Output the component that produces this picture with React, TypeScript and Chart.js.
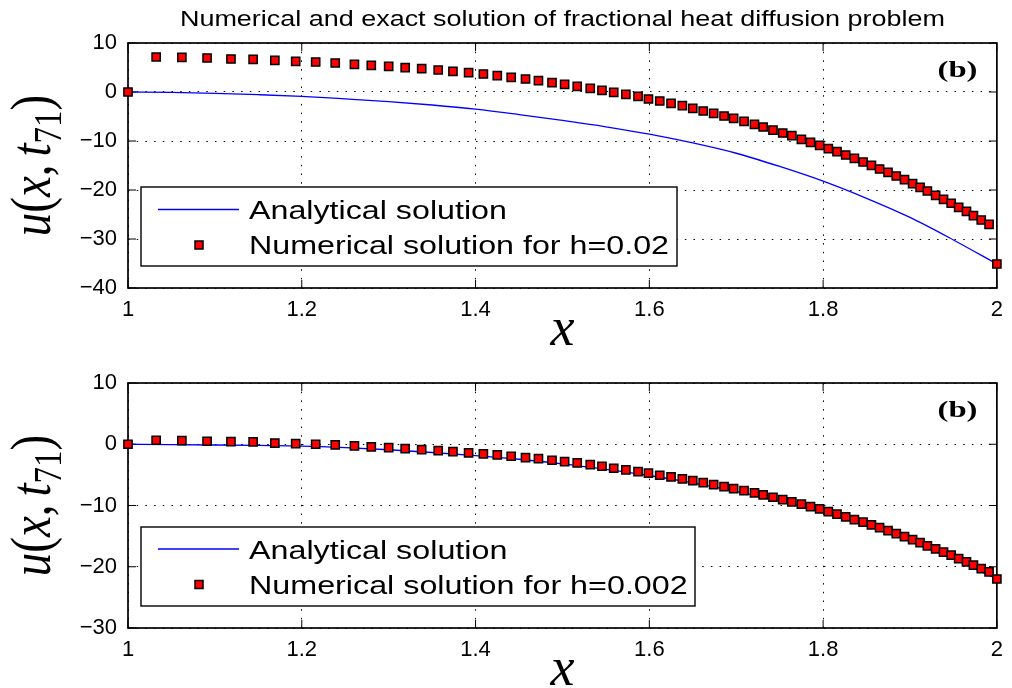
import React, { useEffect, useRef } from 'react';
import { Chart, registerables } from 'chart.js';

Chart.register(...registerables);

// ---------------- data ----------------
const xNodes = [
  1, 1.0324, 1.062, 1.091, 1.1185, 1.144, 1.169, 1.193, 1.216, 1.2385,
  1.2606, 1.28, 1.3, 1.319, 1.338, 1.357, 1.374, 1.392, 1.409, 1.425,
  1.441, 1.4575, 1.4724, 1.488, 1.5025, 1.517, 1.532, 1.5455, 1.559, 1.573,
  1.587, 1.599, 1.612, 1.625, 1.638, 1.65, 1.662, 1.674, 1.686, 1.697,
  1.709, 1.721, 1.731, 1.7423, 1.7535, 1.764, 1.775, 1.7855, 1.796, 1.806,
  1.816, 1.826, 1.836, 1.846, 1.8556, 1.865, 1.8747, 1.8842, 1.8937, 1.903,
  1.9116, 1.92, 1.9295, 1.9386, 1.9474, 1.956, 1.965, 1.973, 1.982, 1.991, 2,
];

const numericalTop = [
  0, 7.14, 7.08, 6.94, 6.73, 6.67, 6.47, 6.27, 6.12, 5.92,
  5.65, 5.45, 5.24, 4.98, 4.78, 4.49, 4.22, 3.96, 3.67, 3.35,
  3.0, 2.65, 2.33, 1.92, 1.57, 1.16, 0.76, 0.35, -0.06, -0.47,
  -0.88, -1.43, -1.84, -2.31, -2.78, -3.33, -3.88, -4.35, -4.9, -5.37,
  -5.98, -6.59, -7.14, -7.76, -8.37, -8.9, -9.65, -10.27, -10.88, -11.55,
  -12.16, -12.86, -13.53, -14.29, -14.96, -15.71, -16.39, -17.14, -17.88, -18.69,
  -19.45, -20.2, -21.08, -21.9, -22.7, -23.53, -24.35, -25.22, -26.12, -27.0, -35.1,
];

const numericalBottom = [
  0, 0.65, 0.6, 0.49, 0.43, 0.38, 0.2, 0.1, 0, -0.1,
  -0.28, -0.44, -0.55, -0.72, -0.88, -1.04, -1.2, -1.42, -1.58, -1.75,
  -1.96, -2.18, -2.35, -2.61, -2.84, -3.05, -3.33, -3.59, -3.92, -4.19,
  -4.47, -4.73, -5.06, -5.33, -5.66, -5.94, -6.26, -6.59, -6.92, -7.24,
  -7.57, -7.94, -8.27, -8.65, -9.04, -9.41, -9.79, -10.18, -10.55, -10.99,
  -11.42, -11.86, -12.3, -12.72, -13.16, -13.6, -14.09, -14.58, -15.07, -15.56,
  -16.05, -16.59, -17.08, -17.62, -18.1, -18.66, -19.2, -19.74, -20.29, -20.83, -22.0,
];

const xAnalytic = [
  1.0, 1.05, 1.1, 1.15, 1.2, 1.25, 1.3, 1.35, 1.4, 1.45, 1.5,
  1.55, 1.6, 1.65, 1.7, 1.75, 1.8, 1.85, 1.9, 1.95, 2.0,
];
const analyticTop = [
  0, -0.08, -0.27, -0.55, -0.9, -1.4, -1.95, -2.65, -3.5, -4.6, -5.8,
  -7.1, -8.6, -10.4, -12.5, -15.2, -18.2, -21.7, -25.6, -30.2, -35.1,
];
const analyticBottom = [
  0, -0.05, -0.12, -0.2, -0.3, -0.55, -0.9, -1.35, -1.85, -2.45, -3.2,
  -4.1, -5.1, -6.3, -7.7, -9.3, -11.1, -13.3, -15.8, -18.7, -22.0,
];

const xTicks = [1, 1.2, 1.4, 1.6, 1.8, 2];
const xTickLabels = ['1', '1.2', '1.4', '1.6', '1.8', '2'];
const yTicksTop = [-40, -30, -20, -10, 0, 10];
const yTickLabelsTop = ['\u221240', '\u221230', '\u221220', '\u221210', '0', '10'];
const yTicksBottom = [-30, -20, -10, 0, 10];
const yTickLabelsBottom = ['\u221230', '\u221220', '\u221210', '0', '10'];

const titleText = 'Numerical and exact solution of fractional heat diffusion problem';
const legendTop = ['Analytical solution', 'Numerical solution for h=0.02'];
const legendBottom = ['Analytical solution', 'Numerical solution for h=0.002'];
const panelTag = '(b)';

// ---------------- layout ----------------
type Spec = {
  canvasTop: number;
  height: number;
  area: { left: number; right: number; top: number; bottom: number };
  yMin: number;
  yMax: number;
  yTicks: number[];
  yLabels: string[];
  analytic: number[];
  numerical: number[];
  legend: string[];
  legendBox: { x: number; y: number; w: number; h: number };
  legendLineY: number;
  legendMarkerY: number;
  legendBase: [number, number];
  legendTextWidth: number;
  tagBase: number;
  xLabelBase: number;
  showTitle: boolean;
};

const specs: Spec[] = [
  {
    canvasTop: 0,
    height: 350,
    area: { left: 128, right: 1003, top: 43, bottom: 288 },
    yMin: -40,
    yMax: 10,
    yTicks: yTicksTop,
    yLabels: yTickLabelsTop,
    analytic: analyticTop,
    numerical: numericalTop,
    legend: legendTop,
    legendBox: { x: 141, y: 187, w: 536, h: 79 },
    legendLineY: 209.5,
    legendMarkerY: 245,
    legendBase: [219.3, 254.3],
    legendTextWidth: 420,
    tagBase: 77,
    xLabelBase: 345,
    showTitle: true,
  },
  {
    canvasTop: 344,
    height: 344,
    area: { left: 128, right: 1003, top: 383, bottom: 628 },
    yMin: -30,
    yMax: 10,
    yTicks: yTicksBottom,
    yLabels: yTickLabelsBottom,
    analytic: analyticBottom,
    numerical: numericalBottom,
    legend: legendBottom,
    legendBox: { x: 141, y: 527, w: 554, h: 79 },
    legendLineY: 549,
    legendMarkerY: 584.5,
    legendBase: [558.5, 593.5],
    legendTextWidth: 438.7,
    tagBase: 417,
    xLabelBase: 685,
    showTitle: false,
  },
];

const Y_AXIS_W = 60;
const X_AXIS_H = 40;
const TICK = 8;
const SX = 1.2;
const TICK_FONT = { family: '"Liberation Sans", Arial, sans-serif', size: 22 };

function fitText(
  ctx: CanvasRenderingContext2D,
  text: string,
  x: number,
  y: number,
  font: string,
  width: number | null,
  align: CanvasTextAlign,
) {
  ctx.save();
  ctx.font = font;
  const w = ctx.measureText(text).width;
  const sx = width ? width / w : 1;
  ctx.translate(x, y);
  ctx.scale(sx, 1);
  ctx.textAlign = align;
  ctx.textBaseline = 'alphabetic';
  ctx.fillText(text, 0, 0);
  ctx.restore();
}

function drawYLabel(ctx: CanvasRenderingContext2D, baseX: number, centerY: number) {
  const size = 47;
  const it = `italic ${size}px "Liberation Serif"`;
  const rm = `${size}px "Liberation Serif"`;
  const sub = `${Math.round(size * 0.7)}px "Liberation Serif"`;
  const parts: { t: string; f: string; dy: number; gap?: number }[] = [
    { t: 'u', f: it, dy: 0 },
    { t: '(', f: rm, dy: 0 },
    { t: 'x', f: it, dy: 0 },
    { t: ',', f: rm, dy: 0, gap: size * 0.17 },
    { t: 't', f: it, dy: 0 },
    { t: '71', f: sub, dy: size * 0.2 },
    { t: ')', f: rm, dy: 0 },
  ];
  ctx.save();
  let total = 0;
  const widths = parts.map((p) => {
    ctx.font = p.f;
    const w = ctx.measureText(p.t).width + (p.gap || 0);
    total += w;
    return w;
  });
  ctx.translate(baseX, centerY);
  ctx.scale(SX, 1);
  ctx.rotate(-Math.PI / 2);
  ctx.fillStyle = '#000';
  ctx.textAlign = 'left';
  ctx.textBaseline = 'alphabetic';
  let x = -total / 2;
  parts.forEach((p, i) => {
    ctx.font = p.f;
    ctx.fillText(p.t, x, p.dy);
    x += widths[i];
  });
  ctx.restore();
}

function makePlugin(spec: Spec) {
  const off = spec.canvasTop;
  return {
    id: 'panelDecor',
    beforeDatasetsDraw(chart: any) {
      const { ctx, chartArea: a, scales } = chart;
      const xs = scales.x;
      const ys = scales.y;
      ctx.save();
      ctx.strokeStyle = '#000';
      ctx.lineWidth = 1;
      ctx.beginPath();
      xs.ticks.forEach((t: any) => {
        const p = xs.getPixelForValue(t.value);
        ctx.moveTo(p, a.bottom);
        ctx.lineTo(p, a.bottom - TICK);
        ctx.moveTo(p, a.top);
        ctx.lineTo(p, a.top + TICK);
      });
      ys.ticks.forEach((t: any) => {
        const p = ys.getPixelForValue(t.value);
        ctx.moveTo(a.left, p);
        ctx.lineTo(a.left + TICK, p);
        ctx.moveTo(a.right, p);
        ctx.lineTo(a.right - TICK, p);
      });
      ctx.stroke();
      ctx.lineWidth = 1.7;
      ctx.strokeRect(a.left, a.top, a.right - a.left, a.bottom - a.top);
      ctx.restore();
    },
    afterDraw(chart: any) {
      const { ctx, chartArea: a } = chart;
      ctx.save();
      ctx.fillStyle = '#000';
      if (spec.showTitle) {
        fitText(ctx, titleText, (a.left + a.right) / 2, 26 - off, '21.5px "Liberation Sans"', 765, 'center');
      }
      drawYLabel(ctx, 50, (a.top + a.bottom) / 2);
      fitText(ctx, 'x', (a.left + a.right) / 2, spec.xLabelBase - off, 'italic 54px "Liberation Serif"', null, 'center');
      fitText(ctx, panelTag, 957.5, spec.tagBase - off, 'bold 24px "Liberation Serif"', 40, 'center');
      // legend
      const b = spec.legendBox;
      ctx.fillStyle = '#fff';
      ctx.fillRect(b.x, b.y - off, b.w, b.h);
      ctx.strokeStyle = '#000';
      ctx.lineWidth = 1.4;
      ctx.strokeRect(b.x, b.y - off, b.w, b.h);
      ctx.strokeStyle = '#0000ff';
      ctx.lineWidth = 1.3;
      ctx.beginPath();
      ctx.moveTo(158, spec.legendLineY - off);
      ctx.lineTo(239, spec.legendLineY - off);
      ctx.stroke();
      ctx.fillStyle = '#ff0000';
      ctx.strokeStyle = '#000';
      ctx.lineWidth = 1.5;
      const my = spec.legendMarkerY - off;
      ctx.fillRect(199 - 4, my - 4, 8, 8);
      ctx.strokeRect(199 - 4, my - 4, 8, 8);
      ctx.fillStyle = '#000';
      const lf = '26.5px "Liberation Sans"';
      ctx.font = lf;
      const sx = spec.legendTextWidth / ctx.measureText(spec.legend[1]).width;
      spec.legend.forEach((t, i) => {
        ctx.save();
        ctx.font = lf;
        ctx.translate(249, spec.legendBase[i] - off);
        ctx.scale(sx, 1);
        ctx.textAlign = 'left';
        ctx.textBaseline = 'alphabetic';
        ctx.fillText(t, 0, 0);
        ctx.restore();
      });
      ctx.restore();
    },
  };
}

function buildChart(canvas: HTMLCanvasElement, spec: Spec) {
  const off = spec.canvasTop;
  const ar = spec.area;
  return new Chart(canvas, {
    type: 'scatter',
    data: {
      datasets: [
        {
          label: spec.legend[0],
          data: xAnalytic.map((x, i) => ({ x, y: spec.analytic[i] })),
          showLine: true,
          borderColor: '#0000ff',
          borderWidth: 1.3,
          pointRadius: 0,
          cubicInterpolationMode: 'monotone',
          order: 2,
        } as any,
        {
          label: spec.legend[1],
          data: xNodes.map((x, i) => ({ x, y: spec.numerical[i] })),
          showLine: false,
          pointStyle: 'rect',
          pointRadius: 5.8,
          backgroundColor: '#ff0000',
          borderColor: '#000000',
          borderWidth: 1.5,
          order: 1,
          clip: false,
        } as any,
      ],
    },
    options: {
      animation: false,
      responsive: false,
      devicePixelRatio: 1,
      events: [],
      layout: {
        padding: {
          left: ar.left - Y_AXIS_W,
          right: 1012 - ar.right,
          top: ar.top - off,
          bottom: spec.height - (ar.bottom - off) - X_AXIS_H,
        },
      },
      plugins: {
        legend: { display: false },
        tooltip: { enabled: false },
        title: { display: false },
      },
      scales: {
        x: {
          type: 'linear',
          min: 1,
          max: 2,
          afterBuildTicks: (s: any) => {
            s.ticks = xTicks.map((value) => ({ value }));
          },
          afterFit: (s: any) => {
            s.height = X_AXIS_H;
          },
          ticks: {
            autoSkip: false,
            maxRotation: 0,
            padding: 9,
            color: '#000',
            font: TICK_FONT,
            callback: (_v: any, i: number) => xTickLabels[i],
          },
          grid: { color: '#000', lineWidth: 1, drawTicks: false },
          border: { display: false, dash: [1.5, 7.2] },
        },
        y: {
          type: 'linear',
          min: spec.yMin,
          max: spec.yMax,
          afterBuildTicks: (s: any) => {
            s.ticks = spec.yTicks.map((value) => ({ value }));
          },
          afterFit: (s: any) => {
            s.width = Y_AXIS_W;
          },
          ticks: {
            autoSkip: false,
            padding: 11,
            color: '#000',
            font: TICK_FONT,
            callback: (_v: any, i: number) => spec.yLabels[i],
          },
          grid: { color: '#000', lineWidth: 1, drawTicks: false },
          border: { display: false, dash: [1.5, 7.2] },
        },
      },
    } as any,
    plugins: [makePlugin(spec) as any],
  });
}

export default function App() {
  const topRef = useRef<HTMLCanvasElement | null>(null);
  const botRef = useRef<HTMLCanvasElement | null>(null);

  useEffect(() => {
    const charts: Chart[] = [];
    if (topRef.current) charts.push(buildChart(topRef.current, specs[0]));
    if (botRef.current) charts.push(buildChart(botRef.current, specs[1]));
    return () => charts.forEach((c) => c.destroy());
  }, []);

  return (
    <div
      style={{
        position: 'absolute',
        left: 0,
        top: 0,
        width: 1012,
        height: 688,
        background: '#fff',
        overflow: 'hidden',
      }}
    >
      <canvas
        ref={topRef}
        width={1012}
        height={specs[0].height}
        style={{ position: 'absolute', left: 0, top: specs[0].canvasTop, width: 1012, height: specs[0].height }}
      />
      <canvas
        ref={botRef}
        width={1012}
        height={specs[1].height}
        style={{ position: 'absolute', left: 0, top: specs[1].canvasTop, width: 1012, height: specs[1].height }}
      />
    </div>
  );
}
